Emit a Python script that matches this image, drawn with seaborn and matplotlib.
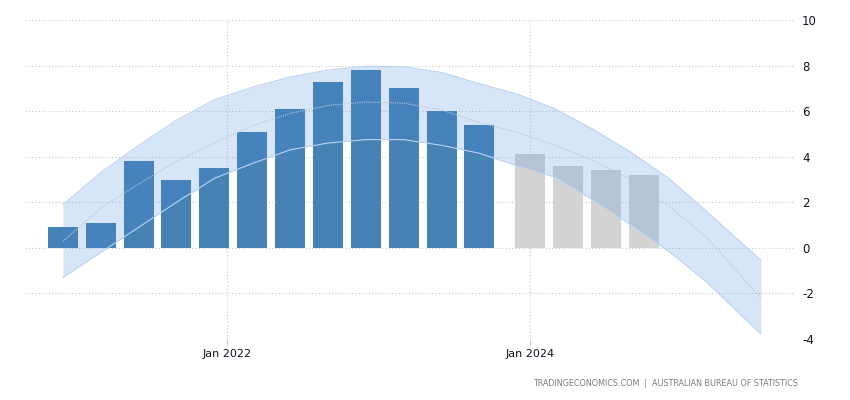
import matplotlib
matplotlib.use("Agg")
import matplotlib.pyplot as plt
import seaborn as sns
import pandas as pd
import numpy as np

# ---- data (x in months since Jan 2020) ----
actual_months = [11, 14, 17, 20, 23, 26, 29, 32, 35, 38, 41, 44]
actual_values = [0.9, 1.1, 3.8, 3.0, 3.5, 5.1, 6.1, 7.3, 7.8, 7.0, 6.0, 5.4]
forecast_months = [48, 51, 54, 57]
forecast_values = [4.1, 3.6, 3.4, 3.2]

band_months = [11, 14, 17, 20, 23, 26, 29, 32, 35, 38, 41, 44, 47, 50, 53, 56, 59, 62, 65, 66.3]
band_upper = [1.9, 3.3, 4.5, 5.6, 6.5, 7.05, 7.5, 7.8, 7.97, 7.95, 7.7, 7.2, 6.75, 6.1, 5.2, 4.2, 3.05, 1.6, 0.1, -0.55]
band_center = [0.28, 1.75, 2.8, 3.8, 4.6, 5.35, 5.9, 6.25, 6.4, 6.35, 6.05, 5.5, 5.06, 4.5, 3.83, 3.0, 1.84, 0.45, -1.4, -2.2]
band_lower = [-1.3, -0.2, 0.9, 2.0, 3.05, 3.7, 4.3, 4.6, 4.75, 4.75, 4.5, 4.15, 3.6, 3.1, 2.1, 1.0, -0.15, -1.5, -3.1, -3.77]

xtick_pos = [24, 48]
xtick_labels = ["Jan 2022", "Jan 2024"]
ytick_vals = [-4, -2, 0, 2, 4, 6, 8, 10]
source_text = "TRADINGECONOMICS.COM  |  AUSTRALIAN BUREAU OF STATISTICS"

bars = pd.DataFrame({
    "month": actual_months + forecast_months,
    "value": actual_values + forecast_values,
    "kind": ["actual"] * len(actual_months) + ["forecast"] * len(forecast_months),
})
band = pd.DataFrame({"month": band_months, "upper": band_upper,
                     "center": band_center, "lower": band_lower})

sns.set_theme(style="white")
plt.rcParams["font.family"] = ["DejaVu Sans"]

fig = plt.figure(figsize=(8.5, 4.0), dpi=100)
ax = fig.add_axes([25 / 850, 1 - 339 / 400, 770 / 850, 319 / 400])

grid_color = "#c8c8c8"
for v in ytick_vals:
    ax.axhline(v, color=grid_color, lw=0.8, ls=(0, (1, 2)), zorder=0)
for xp in xtick_pos:
    ax.axvline(xp, color=grid_color, lw=0.8, ls=(0, (1, 2)), zorder=0)

sns.barplot(data=bars, x="month", y="value", hue="kind", native_scale=True,
            dodge=False, width=2.38 / 3, saturation=1, linewidth=0,
            palette={"actual": "#4682b4", "forecast": "#d3d3d3"},
            legend=False, ax=ax, zorder=2)

ax.fill_between(band["month"], band["lower"], band["upper"],
                color=(70 / 255, 136 / 255, 222 / 255), alpha=0.21,
                lw=0, zorder=3)
sns.lineplot(data=band, x="month", y="upper", color="#bcd3f2", lw=0.8, ax=ax, zorder=3)
sns.lineplot(data=band, x="month", y="lower", color="#bcd3f2", lw=0.8, ax=ax, zorder=3)
sns.lineplot(data=band, x="month", y="center", color="#b8c6d8", lw=0.8,
             ls=(0, (1, 1)), ax=ax, zorder=3)

ax.set_xlim(8, 69)
ax.set_ylim(-4, 10)
ax.set_xticks(xtick_pos)
ax.set_xticklabels(xtick_labels)
ax.set_yticks(ytick_vals)
ax.set_yticklabels([str(v) for v in ytick_vals])
ax.yaxis.tick_right()
ax.tick_params(axis="y", length=0, pad=5, labelsize=8.5, labelcolor="#111122")
ax.tick_params(axis="x", length=4, color=grid_color, width=0.8, pad=3,
               labelsize=8, labelcolor="#111122", bottom=True)
ax.set_xlabel("")
ax.set_ylabel("")
for s in ax.spines.values():
    s.set_visible(False)

fig.text(798 / 850, 1 - 383 / 400, source_text, ha="right", va="center",
         fontsize=5.8, color="#7a7a7a")

fig.savefig("out.png", dpi=100)
